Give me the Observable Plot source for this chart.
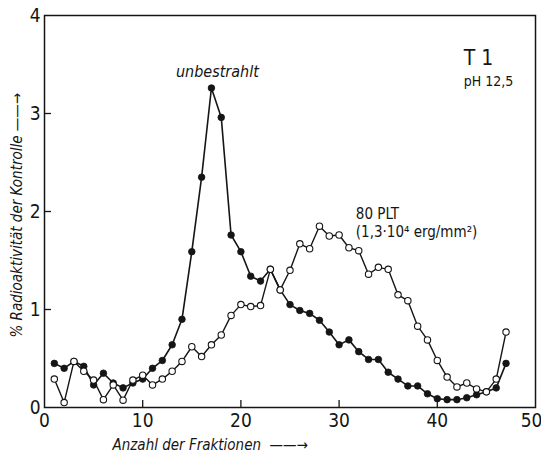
<!DOCTYPE html>
<html>
<head>
<meta charset="utf-8">
<script src="https://cdn.jsdelivr.net/npm/d3@7"></script>
<script src="https://cdn.jsdelivr.net/npm/@observablehq/plot@0.6"></script>
<style>
  html, body { margin: 0; padding: 0; background: #fff; }
  svg { display: block; }
  svg text { font-stretch: condensed; }
</style>
</head>
<body>
<div id="chart"></div>
<script>
const fractions = [1,2,3,4,5,6,7,8,9,10,11,12,13,14,15,16,17,18,19,20,21,22,23,24,25,26,27,28,29,30,31,32,33,34,35,36,37,38,39,40,41,42,43,44,45,46,47];
const unbestrahlt = [0.45,0.40,0.47,0.42,0.23,0.35,0.25,0.20,0.25,0.29,0.40,0.48,0.64,0.90,1.59,2.35,3.26,2.96,1.76,1.59,1.34,1.29,1.41,1.20,1.05,0.99,0.96,0.89,0.77,0.64,0.69,0.57,0.49,0.49,0.36,0.29,0.22,0.22,0.14,0.09,0.08,0.08,0.10,0.13,0.16,0.20,0.45];
const bestrahlt = [0.29,0.05,0.47,0.37,0.28,0.08,0.23,0.075,0.28,0.33,0.23,0.29,0.37,0.47,0.62,0.52,0.64,0.74,0.94,1.05,1.03,1.04,1.41,1.20,1.40,1.67,1.62,1.85,1.75,1.76,1.63,1.60,1.36,1.43,1.41,1.15,1.09,0.83,0.69,0.48,0.31,0.21,0.25,0.19,0.16,0.29,0.77];
const xTickLabels = [0,10,20,30,40];
const xTickLast = [50];
const xTickMarks = [10,20,30,40];
const yTickLabels = [0,1,2,3,4];
const yTickMarks = [1,2,3];
const annoText = ["unbestrahlt", "80 PLT", "(1,3·10⁴ erg/mm²)", "T 1", "pH 12,5"];
const annoX = [17.6, 31.7, 31.7, 42.7, 42.7];
const annoY = [3.42, 1.97, 1.79, 3.56, 3.33];
const annoSize = [16, 15, 15, 21, 14];
const annoStyle = ["italic", "normal", "normal", "normal", "normal"];
const annoAnchor = ["middle", "start", "start", "start", "start"];
const xTitle = "Anzahl der Fraktionen  ——→";
const yTitle = "% Radioaktivität der Kontrolle ——→";

const ink = "#151515";
const font = "'Liberation Sans Narrow', 'DejaVu Sans Condensed', 'DejaVu Sans', sans-serif";

const dataA = fractions.map((f, i) => ({f, v: unbestrahlt[i]}));
const dataB = fractions.map((f, i) => ({f, v: bestrahlt[i]}));
const annos = annoText.map((t, i) => ({t, x: annoX[i], y: annoY[i], s: annoSize[i], st: annoStyle[i], a: annoAnchor[i]}));

const chart = Plot.plot({
  width: 541,
  height: 458,
  marginLeft: 44,
  marginRight: 6,
  marginTop: 15,
  marginBottom: 51,
  style: {fontFamily: font, fontSize: "19px", color: ink, background: "#fff"},
  x: {domain: [0, 50]},
  y: {domain: [0, 4]},
  marks: [
    Plot.frame({stroke: ink, strokeWidth: 1.5}),
    Plot.axisX({ticks: xTickLabels, tickFormat: d3.format("d"), tickSize: 0, tickPadding: 6, label: null, fill: ink, fontSize: 19}),
    Plot.axisX({ticks: xTickLast, tickFormat: d3.format("d"), tickSize: 0, tickPadding: 6, label: null, fill: ink, fontSize: 19, dx: -4}),
    Plot.axisX({ticks: xTickMarks, tickSize: -7, text: null, label: null, stroke: ink, strokeWidth: 1.3}),
    Plot.axisY({ticks: yTickLabels, tickFormat: d3.format("d"), tickSize: 0, tickPadding: 4, label: null, fill: ink, fontSize: 19}),
    Plot.axisY({ticks: yTickMarks, tickSize: -7, text: null, label: null, stroke: ink, strokeWidth: 1.3}),
    Plot.line(dataA, {x: "f", y: "v", stroke: ink, strokeWidth: 1.6}),
    Plot.dot(dataA, {x: "f", y: "v", r: 3.3, fill: ink, stroke: ink, strokeWidth: 0.8}),
    Plot.line(dataB, {x: "f", y: "v", stroke: ink, strokeWidth: 1.4}),
    Plot.dot(dataB, {x: "f", y: "v", r: 3.2, fill: "#fff", stroke: ink, strokeWidth: 1.1}),
    ...annos.map(d => Plot.text([d], {x: "x", y: "y", text: "t", fontSize: d.s, fontStyle: d.st, textAnchor: d.a, fill: ink})),
    Plot.text([xTitle], {text: d => d, frameAnchor: "bottom-left", textAnchor: "start", dx: 68, dy: 42, fontSize: 15, fontStyle: "italic", fill: ink}),
    Plot.text([yTitle], {text: d => d, frameAnchor: "bottom-left", textAnchor: "start", rotate: -90, dx: -23, dy: -70, fontSize: 15, fontStyle: "italic", fill: ink})
  ]
});
document.getElementById("chart").appendChild(chart);
</script>
</body>
</html>
